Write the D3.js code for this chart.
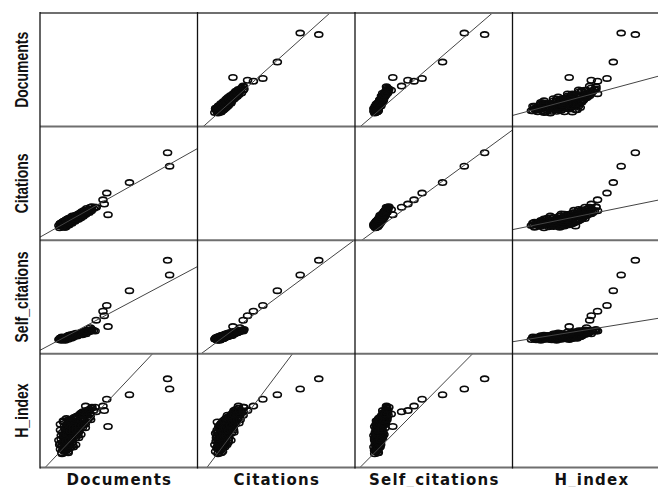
<!DOCTYPE html>
<html>
<head>
<meta charset="utf-8">
<script src="https://cdn.jsdelivr.net/npm/d3@7"></script>
<style>
  body { margin: 0; background: #fff; }
</style>
</head>
<body>
<svg id="chart" width="658" height="487"></svg>
<script>
var variables = ["Documents", "Citations", "Self_citations", "H_index"];

// one entry per case, same order in every array
var documents = [
  280, 310, 260, 320, 250, 290, 240, 300, 270, 320, 260, 310,
  358, 288, 328, 278, 338, 308, 358, 298, 348, 318, 348, 298,
  336, 396, 326, 366, 386, 316, 376, 346, 356, 396,
  424, 374, 394, 354, 414, 434, 384, 404, 364,
  402, 452, 472, 412, 432, 462, 392, 442,
  490, 440, 510, 460, 470, 430, 500,
  488, 538, 508, 548, 468, 528,
  576, 516, 556, 536, 586,
  564, 614, 584, 624,
  632, 592, 652,
  640, 680, 660,
  279, 319, 299, 339, 259, 329, 269, 309, 339, 289, 319, 259,
  357, 337, 377, 297, 367, 307, 347, 377, 327, 357, 297,
  375, 415, 335, 405, 345, 385, 415, 365, 395, 335,
  453, 373, 443, 383, 423, 453, 403, 433,
  411, 481, 421, 461, 491, 441, 471,
  519, 459, 499, 529, 479, 509,
  497, 537, 567, 517, 547,
  575, 605, 555, 585,
  643, 593, 623,
  700, 640, 580, 714, 864, 816, 800, 848, 1136, 1646, 1620
];
var citations = [
  5200, 4600, 5600, 5000, 4400, 5400, 5200, 4800, 5600, 4600, 5000, 5400,
  6040, 5840, 5440, 6240, 5240, 5640, 6040, 5840, 5240, 6240, 5640, 5040,
  5680, 6480, 6680, 6080, 6280, 6880, 5880, 6480, 6080, 6680,
  6920, 7320, 6520, 7520, 6720, 7120, 6320, 7320, 6920,
  7760, 7160, 7560, 7960, 7360, 8160, 6960, 7760,
  8000, 8600, 8200, 7800, 8800, 8400, 7600,
  9240, 8640, 9440, 8440, 8840, 9040,
  9080, 9680, 9480, 10080, 9280,
  10520, 9920, 10320, 9720,
  10760, 11160, 10360,
  11600, 11200, 11800,
  5320, 5720, 4920, 5520, 5920, 4720, 5320, 5120, 5720, 4920, 5520, 5920,
  6360, 5560, 6160, 6560, 5360, 5960, 5760, 6360, 5560, 6160, 6560,
  6200, 6800, 7200, 6000, 6600, 6400, 7000, 6200, 6800, 7200,
  7440, 7840, 6640, 7240, 7040, 7640, 6840, 7440,
  8480, 7280, 7880, 7680, 8280, 7480, 8080,
  7920, 8520, 8320, 8920, 8120, 8720,
  9160, 8960, 9560, 8760, 9360,
  9600, 10200, 9400, 10000,
  10840, 10040, 10640,
  11600, 10800, 10400, 11600, 9000, 12720, 14200, 16600, 20280, 26080, 30800
];
var selfCitations = [
  1000, 1080, 1120, 960, 1040, 1120, 1000, 1080, 960, 1040, 1120, 1000,
  1184, 1024, 1104, 1184, 1064, 1144, 1024, 1104, 1184, 1064, 1064, 1144,
  1168, 1208, 1088, 1248, 1128, 1168, 1248, 1128, 1208, 1088,
  1272, 1192, 1312, 1232, 1152, 1272, 1232, 1192, 1312,
  1296, 1376, 1256, 1336, 1216, 1296, 1336, 1256,
  1400, 1320, 1360, 1440, 1280, 1400, 1360,
  1424, 1344, 1464, 1504, 1384, 1424,
  1528, 1448, 1568, 1488, 1408,
  1552, 1632, 1512, 1592,
  1576, 1656, 1616,
  1680, 1640, 1720,
  1152, 992, 1072, 1112, 1032, 1152, 992, 1072, 1112, 1032, 1152, 1072,
  1056, 1136, 1176, 1096, 1216, 1056, 1136, 1176, 1096, 1216, 1136,
  1200, 1240, 1160, 1280, 1120, 1200, 1240, 1160, 1280, 1200,
  1304, 1224, 1344, 1184, 1264, 1304, 1224, 1344,
  1288, 1408, 1248, 1328, 1368, 1288, 1408,
  1472, 1312, 1392, 1432, 1352, 1472,
  1376, 1456, 1496, 1416, 1536,
  1520, 1560, 1480, 1600,
  1624, 1544, 1664,
  1600, 1840, 1600, 2368, 1920, 2688, 3000, 3408, 4448, 5552, 6584
];
var hIndex = [
  12, 14, 16, 18, 20, 22, 24, 26, 28, 30, 33, 36,
  13, 15, 17, 19, 21, 24, 26, 29, 31, 34, 37, 40,
  15, 18, 21, 24, 27, 30, 33, 36, 39, 41,
  18, 21, 25, 28, 31, 34, 37, 40, 42,
  22, 26, 30, 33, 36, 39, 42, 44,
  26, 30, 34, 37, 40, 43, 46,
  31, 35, 39, 42, 45, 48,
  35, 39, 43, 47, 50,
  39, 44, 48, 51,
  44, 48, 52,
  46, 50, 53,
  13, 15, 17, 19, 21, 23, 25, 27, 29, 31, 34, 38,
  14, 16, 19, 22, 25, 28, 30, 32, 35, 38, 41,
  17, 20, 23, 26, 29, 32, 35, 37, 40, 43,
  20, 24, 28, 32, 35, 38, 41, 44,
  24, 28, 32, 35, 38, 41, 45,
  29, 33, 37, 41, 44, 47,
  33, 37, 41, 45, 49,
  38, 42, 46, 49,
  42, 47, 50,
  53, 47, 54, 49, 36, 50, 54, 60, 64, 69, 78
];

var axisMax = [2000, 40000, 8000, 100];

// fit line of row variable on column variable (null on the diagonal)
var fitIntercept = [
  [null, -90, -80, 196],
  [1080, null, -1760, 3720],
  [248, -184, null, 848],
  [-4.9, -11.1, -4.5, null]
];
var fitSlope = [
  [null, 0.06215, 0.298, 7.47],
  [15.6, null, 5.07, 112.4],
  [2.948, 0.2056, null, 17.84],
  [0.0734, 0.004605, 0.0175, null]
];

var columns = [documents, citations, selfCitations, hIndex];

var gridLeft = 40, gridTop = 13,
  cellW = 157.5, cellH = 113.6,
  n = variables.length;

var svg = d3.select("#chart");

var xScales = axisMax.map(function(m) {
  return d3.scaleLinear().domain([0, m]).range([0, cellW]);
});
var yScales = axisMax.map(function(m) {
  return d3.scaleLinear().domain([0, m]).range([cellH, 0]);
});

var defs = svg.append("defs");
defs.append("clipPath")
  .attr("id", "cell-clip")
  .append("rect")
  .attr("width", cellW)
  .attr("height", cellH);

for (var r = 0; r < n; r++) {
  for (var c = 0; c < n; c++) {
    if (r === c) continue;
    var x = xScales[c], y = yScales[r];
    var cell = svg.append("g")
      .attr("transform", "translate(" + (gridLeft + c * cellW) + "," + (gridTop + r * cellH) + ")")
      .append("g")
      .attr("clip-path", "url(#cell-clip)");

    var pts = d3.range(documents.length).map(function(i) {
      return { xv: columns[c][i], yv: columns[r][i] };
    });

    cell.selectAll("ellipse")
      .data(pts)
      .enter().append("ellipse")
      .attr("cx", d => x(d.xv))
      .attr("cy", d => y(d.yv))
      .attr("rx", 4)
      .attr("ry", 2.7)
      .attr("fill", "none")
      .attr("stroke", "#0a0a0a")
      .attr("stroke-width", 1.6);

    var a = fitIntercept[r][c], b = fitSlope[r][c];
    var ends = [0, axisMax[c]];
    cell.append("line")
      .attr("x1", x(ends[0]))
      .attr("y1", y(a + b * ends[0]))
      .attr("x2", x(ends[1]))
      .attr("y2", y(a + b * ends[1]))
      .attr("stroke", "#444")
      .attr("stroke-width", 1);
  }
}

// frame
var gridBottom = gridTop + n * cellH;
svg.append("g").selectAll("line")
  .data(d3.range(n + 1))
  .enter().append("line")
  .attr("x1", gridLeft)
  .attr("x2", gridLeft + n * cellW)
  .attr("y1", d => gridTop + d * cellH)
  .attr("y2", d => gridTop + d * cellH)
  .attr("stroke", "#6f6f6f")
  .attr("stroke-width", 2);

svg.append("g").selectAll("line")
  .data(d3.range(n + 1))
  .enter().append("line")
  .attr("x1", d => gridLeft + d * cellW)
  .attr("x2", d => gridLeft + d * cellW)
  .attr("y1", gridTop - 1)
  .attr("y2", gridBottom + 1)
  .attr("stroke", "#111")
  .attr("stroke-width", 1.3);

// row labels (tall, narrow lettering)
svg.append("g").selectAll("text")
  .data(variables)
  .enter().append("text")
  .attr("transform", (d, i) => "translate(28," + (gridTop + (i + 0.5) * cellH) + ") rotate(-90) scale(1,1.3)")
  .attr("text-anchor", "middle")
  .style("font-family", "'Liberation Sans', Arial, sans-serif")
  .style("font-weight", "bold")
  .style("font-size", "14px")
  .attr("fill", "#111")
  .text(d => d);

// column labels
svg.append("g").selectAll("text")
  .data(variables)
  .enter().append("text")
  .attr("x", (d, i) => gridLeft + (i + 0.5) * cellW + 0.6)
  .attr("y", 484.5)
  .attr("text-anchor", "middle")
  .style("font-family", "'DejaVu Sans', sans-serif")
  .style("font-weight", "bold")
  .style("font-size", "15px")
  .style("letter-spacing", "1.2px")
  .attr("fill", "#111")
  .text(d => d);
</script>
</body>
</html>
